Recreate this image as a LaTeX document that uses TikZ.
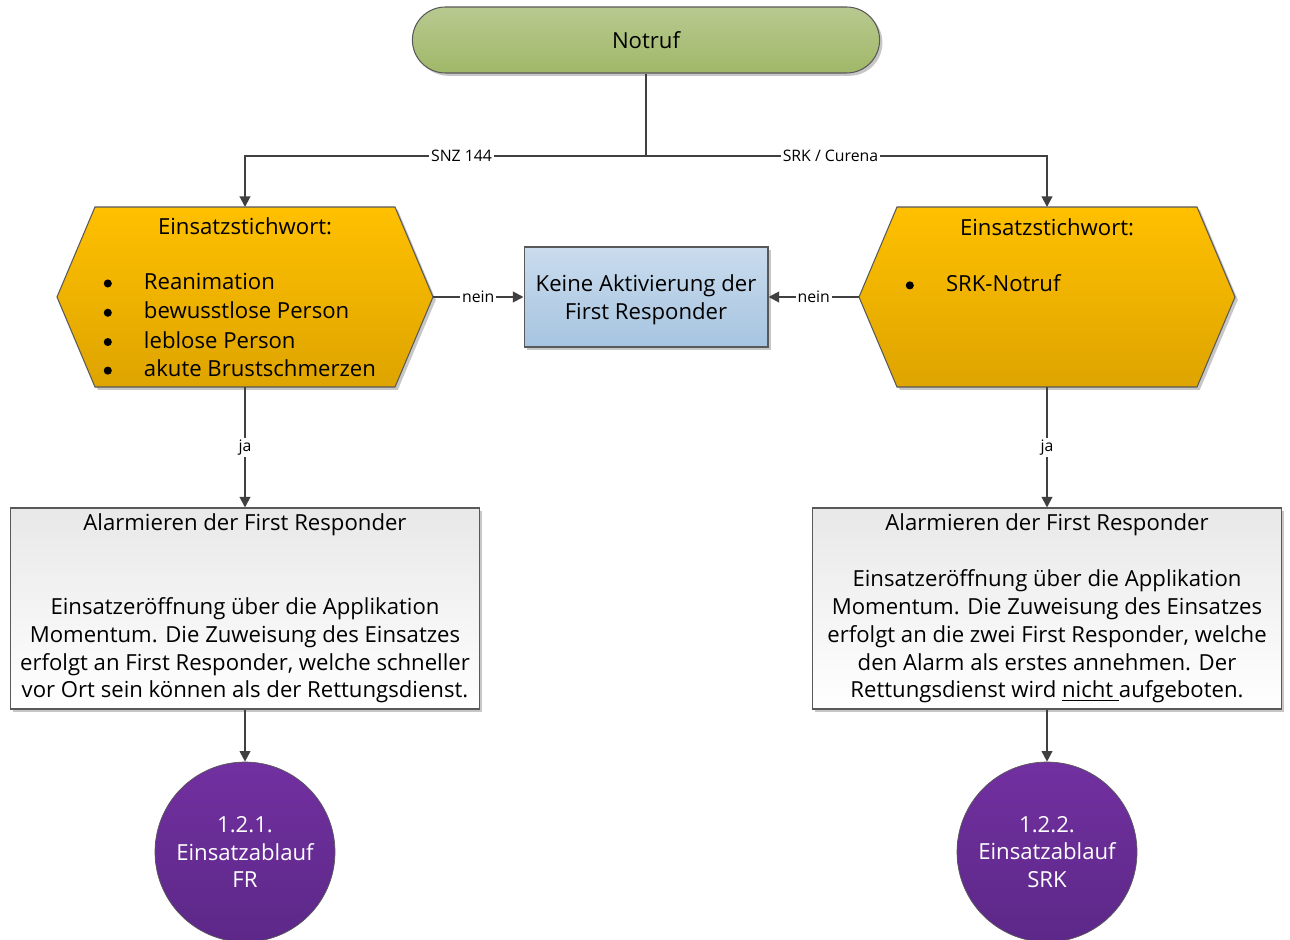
\documentclass[tikz,border=0pt]{standalone}
\usepackage{fontspec}
\setmainfont{Open Sans}
\usetikzlibrary{arrows.meta,shadows,shapes.misc}
\definecolor{lineC}{RGB}{64,64,64}
\definecolor{edgeC}{RGB}{89,89,89}
\definecolor{greenT}{RGB}{184,201,144}
\definecolor{greenB}{RGB}{160,184,104}
\definecolor{goldT}{RGB}{255,192,0}
\definecolor{goldB}{RGB}{222,164,0}
\definecolor{blueT}{RGB}{202,220,237}
\definecolor{blueB}{RGB}{166,196,224}
\definecolor{purpT}{RGB}{114,48,160}
\definecolor{purpB}{RGB}{92,40,136}
\newcommand{\listbul}{\makebox[0.84cm][l]{\hspace{1pt}\tikz[baseline=-0.27em]\fill[black] (0,0) circle (2.3pt);}}
\begin{document}
\begin{tikzpicture}[x=0.02cm,y=-0.02cm,
  shad/.style={drop shadow={shadow xshift=1.6pt,shadow yshift=-1.6pt,fill=black,opacity=0.22}},
  maintext/.style={font=\fontsize{12.6}{15.87}\selectfont},
  pill/.style={rounded rectangle, draw=edgeC, line width=0.6pt, shad,
    top color=greenT, bottom color=greenB, minimum width=9.58cm, minimum height=1.32cm, maintext},
  hexa/.style={draw=edgeC, line width=0.6pt, shad, top color=goldT, bottom color=goldB},
  hexbox/.style={rectangle, minimum width=7.52cm, minimum height=3.6cm, inner sep=0pt, outer sep=0pt},
  bluebox/.style={rectangle, draw=edgeC, line width=0.6pt, shad, top color=blueT, bottom color=blueB,
    minimum width=4.88cm, minimum height=2cm, align=center, maintext, inner sep=0pt},
  graybox/.style={rectangle, draw=edgeC, line width=0.6pt, shad, top color=black!9, bottom color=white,
    minimum width=9.38cm, minimum height=4.02cm, align=center, maintext, inner sep=0pt},
  endcircle/.style={circle, draw=edgeC, line width=0.4pt, top color=purpT, bottom color=purpB,
    minimum size=3.6cm, inner sep=0pt, align=center, text=white, maintext},
  conn/.style={draw=lineC, line width=1.1pt},
  arr/.style={conn, -{Triangle[length=6pt,width=6pt]}},
  lbl/.style={fill=white, inner sep=1pt, font=\fontsize{9}{11}\selectfont, text=black},
  plain/.style={inner sep=0pt, outer sep=0pt, maintext}
]
\useasboundingbox (0,0) rectangle (1290,939);
\fill[white] (0,0) rectangle (1290,939);

% top
\node[pill] (notruf) at (646,40) {Notruf};
\coordinate (split) at (646,156);

% hexagons
\path[hexa] (95,207) -- (395,207) -- (433,297) -- (395,387) -- (95,387) -- (57,297) -- cycle;
\node[hexbox] (hexL) at (245,297) {};
\path[hexa] (897,207) -- (1197,207) -- (1235,297) -- (1197,387) -- (897,387) -- (859,297) -- cycle;
\node[hexbox] (hexR) at (1047,297) {};

\node[plain] (titleL) at (245,226) {Einsatzstichwort:};
\node[plain, anchor=west, align=left] (listL) at (102,325) {%
\listbul Reanimation\\[0.8pt]
\listbul bewusstlose Person\\[0.8pt]
\listbul leblose Person\\[0.4pt]
\listbul akute Brustschmerzen};
\node[plain] (titleR) at (1047,227) {Einsatzstichwort:};
\node[plain, anchor=west, align=left] (listR) at (904,283) {%
\listbul SRK-Notruf};

% middle box
\node[bluebox] (keine) at (646,297) {\raisebox{-1.7pt}[\height][\depth]{\parbox{4.8cm}{\centering Keine Aktivierung der\\First Responder}}};

% gray boxes
\node[graybox] (alarmL) at (245,608.5) {Alarmieren der First Responder\\~\\~\\
Einsatzeröffnung über die Applikation\\
Momentum. Die Zuweisung des Einsatzes\\
erfolgt an First Responder, welche schneller\\
vor Ort sein können als der Rettungsdienst.};
\node[graybox] (alarmR) at (1047,608.5) {Alarmieren der First Responder\\~\\
Einsatzeröffnung über die Applikation\\
Momentum. Die Zuweisung des Einsatzes\\
erfolgt an die zwei First Responder, welche\\
den Alarm als erstes annehmen. Der\\
Rettungsdienst wird \underline{nicht~}aufgeboten.};

% end circles
\node[endcircle] (fr) at (245,852) {1.2.1.\\Einsatzablauf\\FR};
\node[endcircle] (srk) at (1047,852) {1.2.2.\\Einsatzablauf\\SRK};

% connectors
\draw[conn] (notruf.south) -- (split);
\draw[arr] (split) -| node[lbl,pos=0.23]{SNZ 144} (hexL.north);
\draw[arr] (split) -| node[lbl,pos=0.23]{SRK / Curena} (hexR.north);
\draw[arr] (hexL.east) -- node[lbl]{nein} (keine.west);
\draw[arr] (hexR.west) -- node[lbl]{nein} (keine.east);
\draw[arr] (hexL.south) -- node[lbl]{ja} (alarmL.north);
\draw[arr] (hexR.south) -- node[lbl]{ja} (alarmR.north);
\draw[arr] (alarmL.south) -- (fr.north);
\draw[arr] (alarmR.south) -- (srk.north);
\end{tikzpicture}
\end{document}
